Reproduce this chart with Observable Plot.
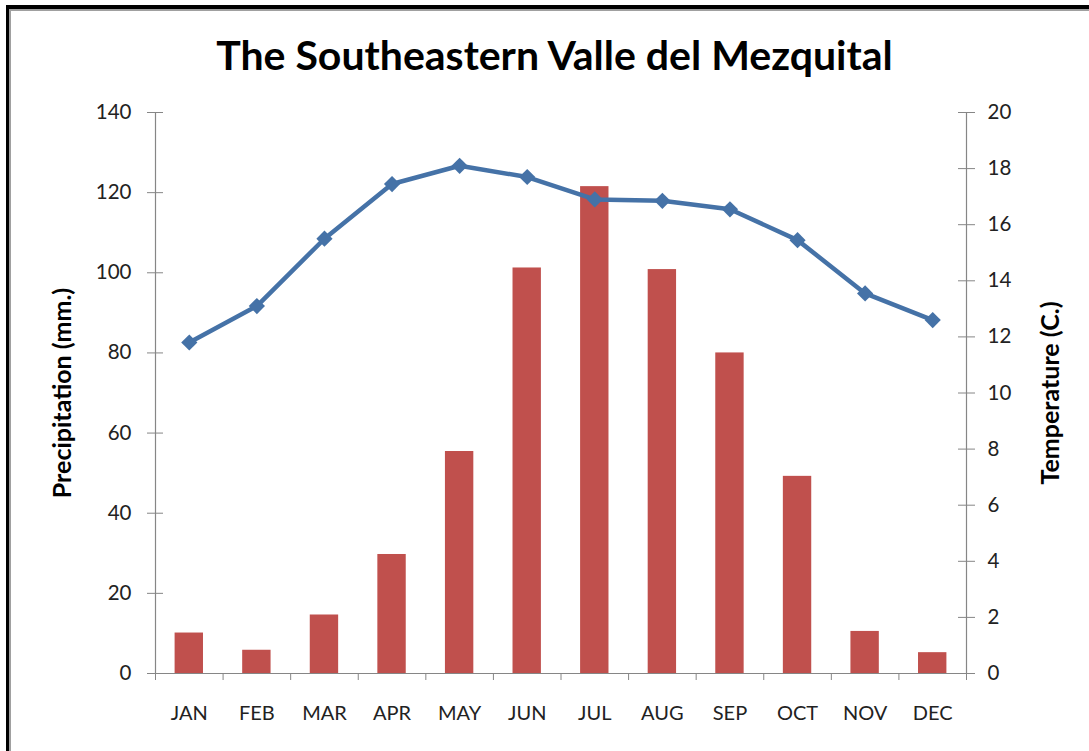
<!DOCTYPE html>
<html>
<head>
<meta charset="utf-8">
<script src="https://cdn.jsdelivr.net/npm/d3@7"></script>
<script src="https://cdn.jsdelivr.net/npm/@observablehq/plot@0.6"></script>
<style>
  html, body { margin: 0; padding: 0; background: #fff; }
  #wrap { position: relative; width: 1089px; height: 751px; overflow: hidden; background: #fff; }
  #frame { position: absolute; left: 6px; top: 5px; width: 1200px; height: 900px;
           border-top: 4px solid #000; border-left: 3px solid #000; pointer-events: none; z-index: 2; }
  #frame2 { position: absolute; left: 0; top: 0; width: 1200px; height: 900px;
            border-top: 2px solid #a0a0a0; border-left: 2px solid #a0a0a0; }
  #title { height: 92px; box-sizing: border-box; padding-top: 30px; padding-left: 20px;
           text-align: center; font-family: Lato, "Open Sans", sans-serif; font-weight: bold;
           font-size: 41px; line-height: normal; color: #000; }
  #chart svg { display: block; }
</style>
</head>
<body>
<div id="wrap">
  <div id="frame"><div id="frame2"></div></div>
  <div id="title">The Southeastern Valle del Mezquital</div>
  <div id="chart"></div>
</div>
<script>
const months = ["JAN","FEB","MAR","APR","MAY","JUN","JUL","AUG","SEP","OCT","NOV","DEC"];
const precipitation = [10.1, 5.8, 14.6, 29.7, 55.4, 101.2, 121.5, 100.8, 80.0, 49.2, 10.5, 5.2];
const temperature = [11.8, 13.1, 15.5, 17.45, 18.1, 17.7, 16.9, 16.85, 16.55, 15.45, 13.55, 12.6];
const precipTicks = [0, 20, 40, 60, 80, 100, 120, 140];
const tempTicks = [0, 2, 4, 6, 8, 10, 12, 14, 16, 18, 20];
const tempScale = 140 / 20; // temperature axis mapped onto precipitation axis

const data = months.map((m, i) => ({month: m, i, precip: precipitation[i], temp: temperature[i]}));

const gray = "#868686";
const font = "Lato, 'Open Sans', sans-serif";

const chart = Plot.plot({
  width: 1089,
  height: 659,
  marginTop: 20,
  marginBottom: 78,
  marginLeft: 155,
  marginRight: 123,
  style: {fontFamily: font, background: "transparent", color: "#222"},
  x: {type: "linear", domain: [0, 12], axis: null},
  y: {domain: [0, 140], axis: null},
  marks: [
    Plot.rectY(data, {x1: d => d.i + 0.29, x2: d => d.i + 0.71, y: "precip", fill: "#C0504D"}),
    Plot.ruleX([0], {stroke: gray, strokeWidth: 1.2}),
    Plot.ruleX([12], {stroke: gray, strokeWidth: 1.2}),
    Plot.ruleY([0], {stroke: gray, strokeWidth: 1.2}),
    Plot.axisY({anchor: "left", ticks: precipTicks, tickSize: 8, tickPadding: 16, fontSize: 20.5, stroke: gray, color: "#222", label: null}),
    Plot.tickY(precipTicks, {y: d => d, stroke: gray, insetRight: 811 - 8}),
    Plot.axisY({anchor: "right", ticks: tempTicks.map(t => t * tempScale), tickFormat: d => String(Math.round(d / tempScale)),
      tickSize: 8, tickPadding: 13, fontSize: 20.5, stroke: gray, label: null}),
    Plot.tickY(tempTicks.map(t => t * tempScale), {y: d => d, stroke: gray, insetLeft: 811 - 8}),
    Plot.axisX({ticks: d3.range(0, 13), tickSize: 7, tickFormat: () => "", stroke: gray, label: null}),
    Plot.axisX({ticks: months.map((m, i) => i + 0.5), tickSize: 0, tickPadding: 32, fontSize: 20,
      tickFormat: d => months[Math.floor(d)], label: null}),
    Plot.line(data, {x: d => d.i + 0.5, y: d => d.temp * tempScale, stroke: "#4572A7", strokeWidth: 4.5}),
    Plot.dot(data, {x: d => d.i + 0.5, y: d => d.temp * tempScale, symbol: "diamond2", r: 7.3, fill: "#4572A7", stroke: "none"}),
    Plot.text(["Precipitation (mm.)"], {frameAnchor: "left", textAnchor: "middle", dx: -93, rotate: -90, fontSize: 25, fontWeight: "bold", fill: "#000"}),
    Plot.text(["Temperature (C.)"], {frameAnchor: "right", textAnchor: "middle", dx: 84, rotate: -90, fontSize: 25, fontWeight: "bold", fill: "#000"})
  ]
});
document.getElementById("chart").appendChild(chart);
</script>
</body>
</html>
